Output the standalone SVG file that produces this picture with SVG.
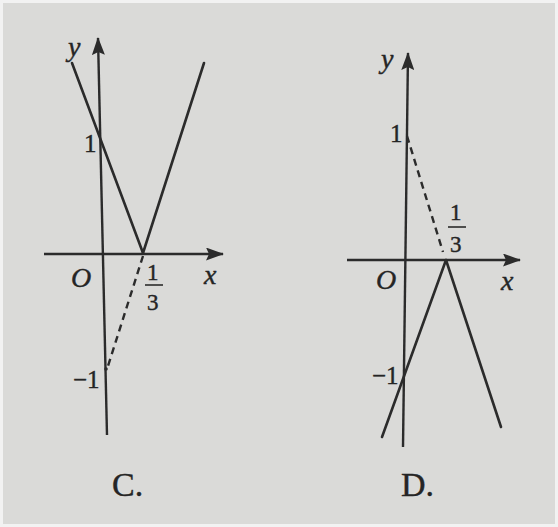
<svg xmlns="http://www.w3.org/2000/svg" width="558" height="527" viewBox="0 0 558 527">
<defs>
<style>
.ax{stroke:#2b2b2b;stroke-width:2.4;fill:none}
.ln{stroke:#2b2b2b;stroke-width:2.6;fill:none;stroke-linecap:round}
.ds{stroke:#2b2b2b;stroke-width:2.4;fill:none;stroke-dasharray:7 5}
.t{font-family:"Liberation Serif",serif;fill:#252525;stroke:#252525;stroke-width:0.4}
.i{font-style:italic}
.d{font-size:25px}
.f{font-size:23px}
.l{font-size:28px}
.c{font-size:34px}
</style>
<marker id="ah" viewBox="0 0 18 13" refX="17" refY="6.5" markerWidth="18" markerHeight="13" markerUnits="userSpaceOnUse" orient="auto">
<path d="M0,0 L18,6.5 L0,13 L3,6.5 z" fill="#2b2b2b"/>
</marker>
</defs>
<rect width="558" height="527" fill="#dadad8"/>
<rect x="0" y="0" width="558" height="527" fill="none" stroke="#f2f2f2" stroke-width="6"/>

<g id="graphC">
<line class="ax" x1="44" y1="254" x2="223" y2="254" marker-end="url(#ah)"/>
<line class="ax" x1="107" y1="435" x2="98" y2="38" marker-end="url(#ah)"/>
<line class="ln" x1="72" y1="63" x2="143" y2="253"/>
<line class="ln" x1="143" y1="253" x2="204" y2="63"/>
<line class="ds" x1="143" y1="256" x2="108" y2="366"/>
<circle cx="106" cy="369" r="1.8" fill="#2b2b2b"/>
<text class="t i l" x="68" y="56">y</text>
<text class="t d" x="84" y="152">1</text>
<text class="t i l" x="71" y="287">O</text>
<text class="t f" x="147" y="280">1</text>
<line x1="145" y1="285" x2="163" y2="285" stroke="#2b2b2b" stroke-width="1.6"/>
<text class="t f" x="147" y="310">3</text>
<text class="t i l" x="204" y="284">x</text>
<text class="t d" x="73" y="388">−1</text>
<text class="t c" x="112" y="496">C.</text>
</g>

<g id="graphD">
<line class="ax" x1="347" y1="260" x2="520" y2="260" marker-end="url(#ah)"/>
<line class="ax" x1="403" y1="447" x2="408" y2="53" marker-end="url(#ah)"/>
<line class="ds" x1="407" y1="136" x2="443" y2="252"/>
<line class="ln" x1="446" y1="260" x2="382" y2="437"/>
<line class="ln" x1="446" y1="260" x2="501" y2="427"/>
<text class="t i l" x="381" y="68">y</text>
<text class="t d" x="390" y="142">1</text>
<text class="t f" x="450" y="220">1</text>
<line x1="448" y1="227" x2="466" y2="227" stroke="#2b2b2b" stroke-width="1.6"/>
<text class="t f" x="450" y="252">3</text>
<text class="t i l" x="376" y="289">O</text>
<text class="t i l" x="501" y="290">x</text>
<text class="t d" x="372" y="384">−1</text>
<text class="t c" x="401" y="496">D.</text>
</g>
</svg>
